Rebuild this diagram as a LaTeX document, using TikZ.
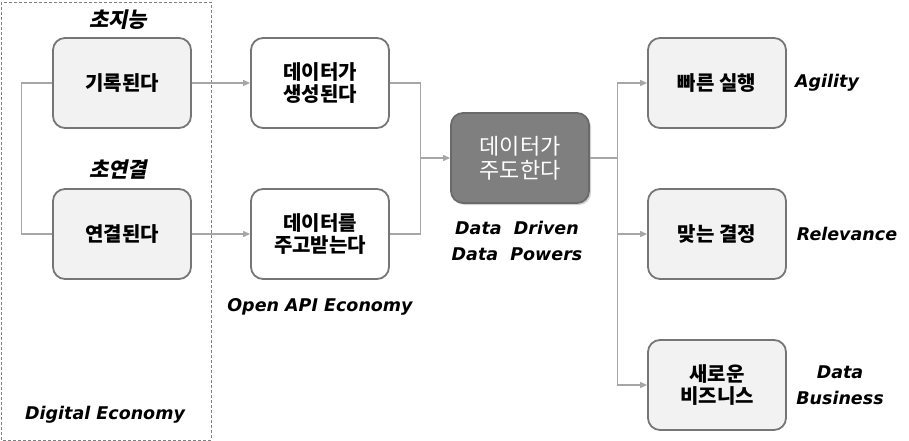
\documentclass[tikz,border=0pt]{standalone}
\usepackage{fontspec}
\setmainfont{DejaVu Sans}
\newfontfamily\kr{Noto Sans CJK KR}
\newfontfamily\krsl[FakeSlant=0.2]{Noto Sans CJK KR}
\newfontfamily\en{DejaVu Sans}
\usetikzlibrary{shadows,arrows.meta}
\definecolor{boxfill}{HTML}{F2F2F2}
\definecolor{boxline}{HTML}{767676}
\definecolor{lineclr}{HTML}{A6A6A6}
\definecolor{ctrfill}{HTML}{7F7F7F}
\definecolor{ctrline}{HTML}{6A6A6A}
\tikzset{
  box/.style={draw=boxline, line width=1.8pt, rounded corners=12pt, fill=boxfill,
    minimum width=138pt, minimum height=90pt, align=center,
    font=\kr\bfseries\fontsize{20}{22}\selectfont},
  wbox/.style={box, fill=white},
  cbox/.style={box, fill=ctrfill, draw=ctrline, text=white,
    font=\kr\fontsize{22}{24}\selectfont,
    drop shadow={opacity=0.35, shadow xshift=2pt, shadow yshift=-2pt}},
  conn/.style={draw=lineclr, line width=1.1pt},
  arr/.style={conn, -{Triangle[length=7pt,width=6pt]}},
  lab/.style={font=\en\bfseries\itshape\fontsize{17.5}{26}\selectfont, align=center},
  klab/.style={font=\krsl\bfseries\fontsize{21}{24}\selectfont}
}
\begin{document}
\begin{tikzpicture}[x=1pt,y=-1pt]
\useasboundingbox (0,0) rectangle (909,441);
\draw[dashed, draw=gray, line width=0.8pt, dash pattern=on 3pt off 2pt] (1,2) rectangle (211,440);

\node[box] (rec) at (122,83) {기록된다};
\node[box] (con) at (122,234) {연결된다};
\node[wbox] (gen) at (320,83) {데이터가\\생성된다};
\node[wbox] (exc) at (320,234) {데이터를\\주고받는다};
\node[cbox] (drv) at (520,158) {데이터가\\주도한다};
\node[box] (agi) at (717,83) {빠른 실행};
\node[box] (rel) at (717,234) {맞는 결정};
\node[box] (biz) at (717,385) {새로운\\비즈니스};

\node[klab] (k1) at (118,20) {초지능};
\node[klab] (k2) at (118,170) {초연결};
\node[lab] (l1) at (105,415) {Digital Economy};
\node[lab] (l2) at (320,307) {Open API Economy};
\node[lab] (l3) at (517,241) {Data~ Driven\\Data~ Powers};
\node[lab] (l4) at (827,83) {Agility};
\node[lab] (l5) at (847,234) {Relevance};
\node[lab] (l6) at (840,385) {Data\\Business};

\draw[conn] (rec.west) -- ++(-31,0) |- (con.west);
\draw[arr] (rec.east) -- (gen.west);
\draw[arr] (con.east) -- (exc.west);
\draw[conn] (gen.east) -- ++(31,0) coordinate (m1) |- (exc.east);
\draw[arr] (m1 |- drv.west) -- (drv.west);
\draw[conn] (drv.east) -- ++(28,0) coordinate (m2);
\draw[arr] (m2) |- (agi.west);
\draw[arr] (m2) |- (rel.west);
\draw[arr] (m2) |- (biz.west);
\end{tikzpicture}
\end{document}
